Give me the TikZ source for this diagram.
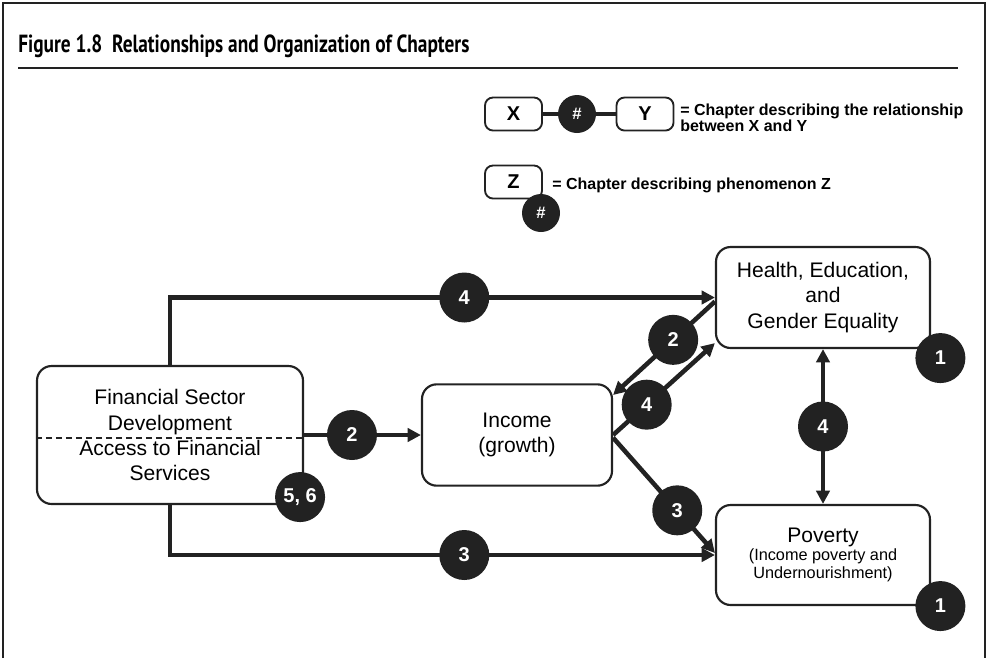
\documentclass[tikz,border=0pt]{standalone}
\usepackage{fontspec}
\setmainfont{Liberation Sans}
\newfontfamily\titlefont[FakeStretch=0.78]{PT Sans}
\usetikzlibrary{arrows.meta,positioning}
\definecolor{ink}{HTML}{222222}

\begin{document}
\begin{tikzpicture}[x=0.75pt,y=-0.75pt,
  box/.style={draw=ink,line width=1.6pt,rounded corners=11pt,align=center,
    minimum width=160.5pt,minimum height=76pt,inner sep=0pt,
    font=\fontsize{15.8}{18.8}\selectfont},
  keybox/.style={draw=ink,line width=1.4pt,rounded corners=6pt,
    minimum width=42.75pt,minimum height=24.75pt,inner sep=0pt,
    font=\bfseries\fontsize{15}{15}\selectfont},
  numdot/.style={circle,fill=ink,text=white,minimum size=37.5pt,inner sep=0pt,
    font=\bfseries\fontsize{15}{15}\selectfont},
  keydot/.style={numdot,minimum size=28.5pt,font=\bfseries\fontsize{12.5}{12.5}\selectfont},
  keytext/.style={anchor=west,align=left,inner sep=0pt,
    font=\bfseries\fontsize{12}{11.6}\selectfont},
  link/.style={draw=ink,line width=3.4pt,-{Triangle[length=10pt,width=10pt]}},
  both/.style={link,{Triangle[length=10pt,width=10pt]}-{Triangle[length=10pt,width=10pt]}}]
 \useasboundingbox (0,0) rectangle (988,658);
 % frame and title
 \draw[ink,line width=2.2pt] (3,658) -- (3,3) -- (985,3) -- (985,658);
 \node[anchor=base west,inner sep=0pt,font=\titlefont\bfseries\fontsize{18.6}{18.6}\selectfont]
   (title) at (18,52) {Figure 1.8\ \ Relationships and Organization of Chapters};
 \draw[ink,line width=1.5pt] (18,68) -- (958,68);

 % key
 \node[keybox] (kx) at (513.5,114) {X};
 \node[keydot] (kn) at (577,114) {\#};
 \node[keybox] (ky) at (645,114) {Y};
 \draw[ink,line width=2.4pt] (kx) -- (kn) -- (ky);
 \node[keytext] (krel) at (680,118) {= Chapter describing the relationship\\between X and Y};
 \node[keybox] (kz) at (513.5,182) {Z};
 \node[keydot] (kzn) at (541,213) {\#};
 \node[keytext] (kphen) at (552,185) {= Chapter describing phenomenon Z};

 % boxes
 \node[box,minimum width=199.5pt,minimum height=103.5pt] (fs) at (170,435)
   {Financial Sector\\Development\\Access to Financial\\Services};
 \draw[ink,line width=0.9pt,dash pattern=on 4.5pt off 3pt]
   ([yshift=-2.25pt]fs.west) -- ([yshift=-2.25pt]fs.east);
 \node[box,minimum width=142.5pt] (inc) at (517,435) {Income\\(growth)};
 \node[box,minimum height=75.75pt] (hea) at (823,297.5) {Health, Education,\\and\\Gender Equality};
 \node[box,minimum height=75pt,font=\fontsize{12.2}{13.3}\selectfont] (pov) at (823,555)
   {{\fontsize{15.8}{18}\selectfont Poverty}\\(Income poverty and\\Undernourishment)};

 % chapter links
 \draw[link] (fs.north) |- node[numdot,pos=0.77] (c4a) {4} (hea.west);
 \draw[link] (fs.south) |- node[numdot,pos=0.77] (c3a) {3} (pov.west);
 \draw[link] (fs.east) -- node[numdot,pos=0.41] (c2a) {2} (inc.west);
 \draw[link] ([yshift=-3pt]hea.west) -- node[numdot,pos=0.41] (c2b) {2} ([yshift=30pt]inc.east);
 \draw[link] (inc.east) -- node[numdot,pos=0.33] (c4b) {4} ([yshift=4.5pt]hea.south west);
 \draw[link] ([yshift=-2pt]inc.east) -- node[numdot,pos=0.63] (c3b) {3} ([yshift=1.5pt]pov.west);
 \draw[both] (hea.south) -- node[numdot] (c4c) {4} (pov.north);

 % chapters on single phenomena
 \node[numdot] (h1) at ([xshift=7pt,yshift=-6.75pt]hea.south east) {1};
 \node[numdot] (p1) at ([xshift=7pt]pov.south east) {1};
 \node[numdot] (f56) at ([xshift=-3pt,yshift=6pt]fs.south east) {5, 6};
\end{tikzpicture}
\end{document}
